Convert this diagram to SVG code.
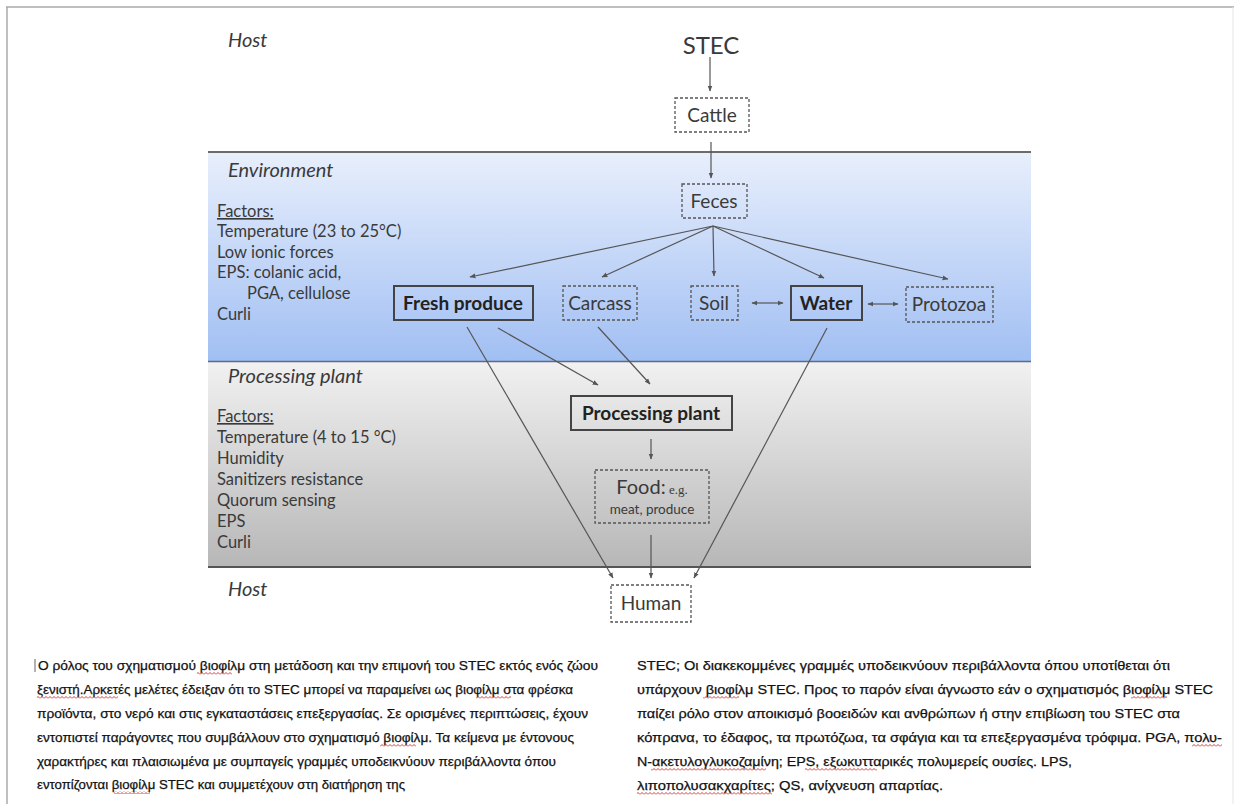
<svg xmlns="http://www.w3.org/2000/svg" width="1236" height="804" viewBox="0 0 1236 804">
<defs>
<linearGradient id="gBlue" x1="0" y1="0" x2="0" y2="1">
<stop offset="0" stop-color="#e8effc"/>
<stop offset="1" stop-color="#a1bff3"/>
</linearGradient>
<linearGradient id="gGray" x1="0" y1="0" x2="0" y2="1">
<stop offset="0" stop-color="#f1f1f1"/>
<stop offset="1" stop-color="#b7b7b7"/>
</linearGradient>
<pattern id="wavy" width="4" height="3" patternUnits="userSpaceOnUse">
<path d="M0,2.5 L2,0.5 L4,2.5" fill="none" stroke="#d42020" stroke-width="0.9"/>
</pattern>
<marker id="ah" viewBox="0 0 10 10" refX="9" refY="5" markerWidth="6" markerHeight="6" markerUnits="userSpaceOnUse" orient="auto-start-reverse">
<path d="M0,1 L10,5 L0,9 z" fill="#555"/>
</marker>
<style>
.lbl{font-family:Lato,"Open Sans",sans-serif;fill:#3a3a3a}
.band{font-style:italic;font-size:20px}
.fac{font-size:16.5px}
.node{font-size:19px;text-anchor:middle}
.bold{font-weight:bold;fill:#222}
.dash{fill:none;stroke:#555;stroke-width:1.3;stroke-dasharray:3 2}
.solid{fill:none;stroke:#444;stroke-width:2}
.con{stroke:#555;stroke-width:1.2;fill:none;marker-end:url(#ah)}
.dbl{marker-start:url(#ah)}
.gr{font-family:"Liberation Sans",Arial,sans-serif;font-size:13px;fill:#111;stroke:#111;stroke-width:0.25}
.sq{fill:url(#wavy)}
</style>
</defs>
<rect width="1236" height="804" fill="#fff"/>
<g id="frame">
<line x1="6" y1="7" x2="1234" y2="7" stroke="#aaa" stroke-width="1.5"/>
<line x1="7" y1="7" x2="7" y2="804" stroke="#aaa" stroke-width="1.5"/>
<line x1="1233" y1="7" x2="1233" y2="804" stroke="#e6e6e6" stroke-width="1"/>
</g>
<g id="bands">
<rect x="208" y="152" width="823" height="209" fill="url(#gBlue)"/>
<rect x="208" y="362" width="823" height="205" fill="url(#gGray)"/>
<line x1="208" y1="152" x2="1031" y2="152" stroke="#6b6b6b" stroke-width="2"/>
<line x1="208" y1="361.5" x2="1031" y2="361.5" stroke="#5d6c85" stroke-width="1.5"/>
<line x1="208" y1="567" x2="1031" y2="567" stroke="#555" stroke-width="2"/>
</g>
<g id="labels">
<text class="lbl band" x="228" y="47">Host</text>
<text class="lbl band" x="228" y="177">Environment</text>
<text class="lbl band" x="228" y="383">Processing plant</text>
<text class="lbl band" x="228" y="596">Host</text>
</g>
<g id="env-factors" class="lbl fac">
<text x="217" y="217" text-decoration="underline">Factors:</text>
<text x="217" y="237">Temperature (23 to 25°C)</text>
<text x="217" y="258">Low ionic forces</text>
<text x="217" y="278">EPS: colanic acid,</text>
<text x="247" y="299">PGA, cellulose</text>
<text x="217" y="320">Curli</text>
</g>
<g id="proc-factors" class="lbl fac">
<text x="217" y="422" text-decoration="underline">Factors:</text>
<text x="217" y="443">Temperature (4 to 15 °C)</text>
<text x="217" y="464">Humidity</text>
<text x="217" y="485">Sanitizers resistance</text>
<text x="217" y="506">Quorum sensing</text>
<text x="217" y="527">EPS</text>
<text x="217" y="548">Curli</text>
</g>
<g id="connectors">
<line class="con" x1="710" y1="57" x2="710" y2="91"/>
<line class="con" x1="711" y1="142" x2="711" y2="178"/>
<line class="con" x1="713" y1="226" x2="470" y2="277"/>
<line class="con" x1="713" y1="226" x2="602" y2="277"/>
<line class="con" x1="713" y1="226" x2="714" y2="276"/>
<line class="con" x1="713" y1="226" x2="824" y2="278"/>
<line class="con" x1="713" y1="226" x2="948" y2="279"/>
<line class="con dbl" x1="752" y1="303" x2="783" y2="303"/>
<line class="con dbl" x1="868" y1="304" x2="898" y2="304"/>
<line class="con" x1="498" y1="328" x2="598" y2="385"/>
<line class="con" x1="598" y1="327" x2="650" y2="384"/>
<line class="con" x1="467" y1="327" x2="613" y2="578"/>
<line class="con" x1="827" y1="328" x2="694" y2="578"/>
<line class="con" x1="651" y1="439" x2="651" y2="459"/>
<line class="con" x1="651" y1="535" x2="651" y2="578"/>
</g>
<g id="stec">
<text class="lbl" x="711" y="54" font-size="24" text-anchor="middle">STEC</text>
</g>
<g id="cattle">
<rect class="dash" x="675" y="98" width="74" height="34"/>
<text class="lbl node" x="712" y="122">Cattle</text>
</g>
<g id="feces">
<rect class="dash" x="682" y="184" width="65" height="34"/>
<text class="lbl node" x="714" y="208">Feces</text>
</g>
<g id="fresh-produce">
<rect class="solid" x="394" y="286" width="139" height="34"/>
<text class="lbl node bold" x="463" y="310">Fresh produce</text>
</g>
<g id="carcass">
<rect class="dash" x="563" y="286" width="74" height="34"/>
<text class="lbl node" x="600" y="310">Carcass</text>
</g>
<g id="soil">
<rect class="dash" x="691" y="286" width="47" height="34"/>
<text class="lbl node" x="714" y="310">Soil</text>
</g>
<g id="water">
<rect class="solid" x="791" y="286" width="71" height="34"/>
<text class="lbl node bold" x="826" y="310">Water</text>
</g>
<g id="protozoa">
<rect class="dash" x="906" y="287" width="87" height="35"/>
<text class="lbl node" x="949" y="311">Protozoa</text>
</g>
<g id="processing-plant">
<rect class="solid" x="571" y="396" width="161" height="34"/>
<text class="lbl node bold" x="651" y="420">Processing plant</text>
</g>
<g id="food">
<rect class="dash" x="595" y="470" width="114" height="53"/>
<text class="lbl" x="652" y="494" text-anchor="middle"><tspan font-size="20">Food:</tspan><tspan font-family="'Liberation Serif',serif" font-size="13"> e.g.</tspan></text>
<text class="lbl" x="652" y="514" font-size="13.5" text-anchor="middle">meat, produce</text>
</g>
<g id="human">
<rect class="dash" x="611" y="585" width="80" height="37"/>
<text class="lbl node" x="651" y="610">Human</text>
</g>
<g id="caption">
<line x1="35" y1="659" x2="35" y2="672" stroke="#999" stroke-width="1.5"/>
<text class="gr" x="38" y="670" textLength="560" lengthAdjust="spacingAndGlyphs">Ο ρόλος του σχηματισμού βιοφίλμ στη μετάδοση και την επιμονή του STEC εκτός ενός ζώου</text>
<text class="gr" x="37" y="694" textLength="536" lengthAdjust="spacingAndGlyphs">ξενιστή.Αρκετές μελέτες έδειξαν ότι το STEC μπορεί να παραμείνει ως βιοφίλμ στα φρέσκα</text>
<text class="gr" x="37" y="718" textLength="551" lengthAdjust="spacingAndGlyphs">προϊόντα, στο νερό και στις εγκαταστάσεις επεξεργασίας. Σε ορισμένες περιπτώσεις, έχουν</text>
<text class="gr" x="37" y="742" textLength="537" lengthAdjust="spacingAndGlyphs">εντοπιστεί παράγοντες που συμβάλλουν στο σχηματισμό βιοφίλμ. Τα κείμενα με έντονους</text>
<text class="gr" x="37" y="766" textLength="519" lengthAdjust="spacingAndGlyphs">χαρακτήρες και πλαισιωμένα με συμπαγείς γραμμές υποδεικνύουν περιβάλλοντα όπου</text>
<text class="gr" x="37" y="789" textLength="368" lengthAdjust="spacingAndGlyphs">εντοπίζονται βιοφίλμ STEC και συμμετέχουν στη διατήρηση της</text>
<text class="gr" x="637" y="670" textLength="533" lengthAdjust="spacingAndGlyphs">STEC; Οι διακεκομμένες γραμμές υποδεικνύουν περιβάλλοντα όπου υποτίθεται ότι</text>
<text class="gr" x="637" y="694" textLength="576" lengthAdjust="spacingAndGlyphs">υπάρχουν βιοφίλμ STEC. Προς το παρόν είναι άγνωστο εάν ο σχηματισμός βιοφίλμ STEC</text>
<text class="gr" x="637" y="718" textLength="543" lengthAdjust="spacingAndGlyphs">παίζει ρόλο στον αποικισμό βοοειδών και ανθρώπων ή στην επιβίωση του STEC στα</text>
<text class="gr" x="637" y="742" textLength="585" lengthAdjust="spacingAndGlyphs">κόπρανα, το έδαφος, τα πρωτόζωα, τα σφάγια και τα επεξεργασμένα τρόφιμα. PGA, πολυ-</text>
<text class="gr" x="637" y="766" textLength="435" lengthAdjust="spacingAndGlyphs">N-ακετυλογλυκοζαμίνη; EPS, εξωκυτταρικές πολυμερείς ουσίες. LPS,</text>
<text class="gr" x="637" y="790" textLength="306" lengthAdjust="spacingAndGlyphs">λιποπολυσακχαρίτες; QS, ανίχνευση απαρτίας.</text>
</g>
<g id="spellcheck">
<rect class="sq" x="197" y="672" width="35" height="3"/>
<rect class="sq" x="37" y="696" width="81" height="3"/>
<rect class="sq" x="476" y="696" width="35" height="3"/>
<rect class="sq" x="380" y="744" width="36" height="3"/>
<rect class="sq" x="114" y="791" width="36" height="3"/>
<rect class="sq" x="703" y="696" width="36" height="3"/>
<rect class="sq" x="1131" y="696" width="36" height="3"/>
<rect class="sq" x="1192" y="744" width="30" height="3"/>
<rect class="sq" x="651" y="768" width="115" height="3"/>
<rect class="sq" x="805" y="768" width="72" height="3"/>
<rect class="sq" x="637" y="792" width="135" height="3"/>
</g>
</svg>
